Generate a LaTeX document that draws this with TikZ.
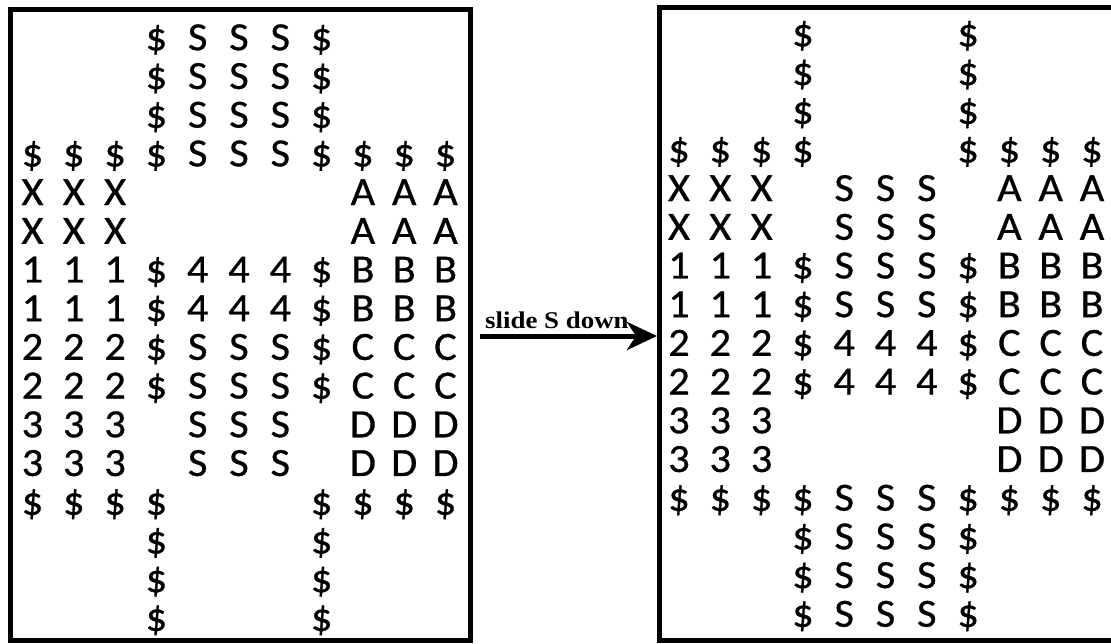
\documentclass[tikz,border=0pt]{standalone}
\usepackage{fontspec}
\setmainfont{Liberation Serif}
\newfontfamily\gridfont[FakeBold=0.7,FakeStretch=1.06]{Carlito}
\usetikzlibrary{matrix,arrows.meta,positioning}
\tikzset{
  boardbox/.style={draw, line width=5pt, inner sep=0pt},
  board/.style={matrix of nodes, ampersand replacement=\&, column sep=0pt, row sep=0pt,
    nodes={minimum width=41.3pt, minimum height=38.7pt, inner sep=0pt,
      text height=25pt, text depth=0pt, font=\gridfont\fontsize{40}{40}\selectfont}},
  slidearrow/.style={line width=5pt, -{Stealth[length=30pt,width=28pt,inset=9pt]}},
  slidelabel/.style={font=\bfseries\fontsize{24}{24}\selectfont, inner sep=0pt, xscale=1.12}
}
\begin{document}
\begin{tikzpicture}[x=1pt,y=1pt]
\useasboundingbox (0,0) rectangle (1111,-643);
% the two boards
\node[boardbox, minimum width=460pt, minimum height=631pt] (lbox) at (240.5,-325) {};
\node[boardbox, minimum width=470pt, minimum height=633pt] (rbox) at (894.5,-324) {};
% before
\matrix (before) [board] at (239,-328) {
  \& \& \& \$ \& S \& S \& S \& \$ \& \& \& \\
  \& \& \& \$ \& S \& S \& S \& \$ \& \& \& \\
  \& \& \& \$ \& S \& S \& S \& \$ \& \& \& \\
\$ \& \$ \& \$ \& \$ \& S \& S \& S \& \$ \& \$ \& \$ \& \$ \\
X \& X \& X \& \& \& \& \& \& A \& A \& A \\
X \& X \& X \& \& \& \& \& \& A \& A \& A \\
1 \& 1 \& 1 \& \$ \& 4 \& 4 \& 4 \& \$ \& B \& B \& B \\
1 \& 1 \& 1 \& \$ \& 4 \& 4 \& 4 \& \$ \& B \& B \& B \\
2 \& 2 \& 2 \& \$ \& S \& S \& S \& \$ \& C \& C \& C \\
2 \& 2 \& 2 \& \$ \& S \& S \& S \& \$ \& C \& C \& C \\
3 \& 3 \& 3 \& \& S \& S \& S \& \& D \& D \& D \\
3 \& 3 \& 3 \& \& S \& S \& S \& \& D \& D \& D \\
\$ \& \$ \& \$ \& \$ \& \& \& \& \$ \& \$ \& \$ \& \$ \\
  \& \& \& \$ \& \& \& \& \$ \& \& \& \\
  \& \& \& \$ \& \& \& \& \$ \& \& \& \\
  \& \& \& \$ \& \& \& \& \$ \& \& \& \\
};
% after
\matrix (after) [board] at (885.5,-324) {
  \& \& \& \$ \& \& \& \& \$ \& \& \& \\
  \& \& \& \$ \& \& \& \& \$ \& \& \& \\
  \& \& \& \$ \& \& \& \& \$ \& \& \& \\
\$ \& \$ \& \$ \& \$ \& \& \& \& \$ \& \$ \& \$ \& \$ \\
X \& X \& X \& \& S \& S \& S \& \& A \& A \& A \\
X \& X \& X \& \& S \& S \& S \& \& A \& A \& A \\
1 \& 1 \& 1 \& \$ \& S \& S \& S \& \$ \& B \& B \& B \\
1 \& 1 \& 1 \& \$ \& S \& S \& S \& \$ \& B \& B \& B \\
2 \& 2 \& 2 \& \$ \& 4 \& 4 \& 4 \& \$ \& C \& C \& C \\
2 \& 2 \& 2 \& \$ \& 4 \& 4 \& 4 \& \$ \& C \& C \& C \\
3 \& 3 \& 3 \& \& \& \& \& \& D \& D \& D \\
3 \& 3 \& 3 \& \& \& \& \& \& D \& D \& D \\
\$ \& \$ \& \$ \& \$ \& S \& S \& S \& \$ \& \$ \& \$ \& \$ \\
  \& \& \& \$ \& S \& S \& S \& \$ \& \& \& \\
  \& \& \& \$ \& S \& S \& S \& \$ \& \& \& \\
  \& \& \& \$ \& S \& S \& S \& \$ \& \& \& \\
};
% arrow between them
\coordinate (start) at ([xshift=7pt,yshift=-11pt]lbox.east);
\draw[slidearrow] (start) -- (start -| rbox.west);
\node[slidelabel, anchor=base west] (lbl) at ([xshift=5pt,yshift=8pt]start) {slide S down};
\end{tikzpicture}
\end{document}
